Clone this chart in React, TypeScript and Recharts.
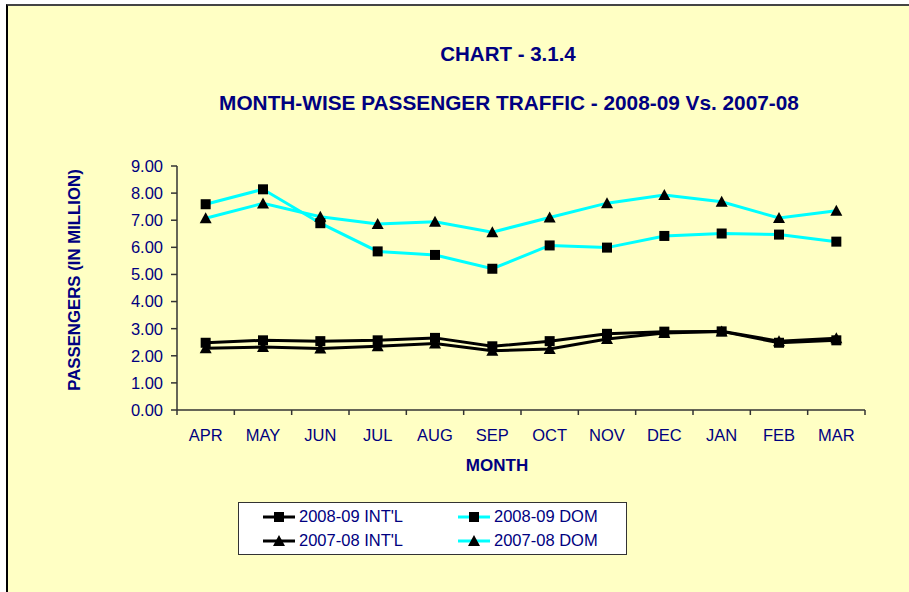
import { LineChart, Line, XAxis, YAxis } from 'recharts';

const months = ['APR', 'MAY', 'JUN', 'JUL', 'AUG', 'SEP', 'OCT', 'NOV', 'DEC', 'JAN', 'FEB', 'MAR'];

const intl0809 = [2.48, 2.57, 2.54, 2.57, 2.66, 2.35, 2.54, 2.81, 2.89, 2.90, 2.48, 2.57];
const dom0809 = [7.59, 8.14, 6.89, 5.85, 5.72, 5.21, 6.07, 5.99, 6.42, 6.51, 6.47, 6.21];
const intl0708 = [2.28, 2.32, 2.27, 2.35, 2.45, 2.19, 2.25, 2.62, 2.84, 2.90, 2.54, 2.65];
const dom0708 = [7.07, 7.62, 7.13, 6.86, 6.94, 6.56, 7.10, 7.63, 7.93, 7.68, 7.08, 7.35];

const yTicks = [0, 1, 2, 3, 4, 5, 6, 7, 8, 9];

const NAVY = '#000080';
const CYAN = '#00FFFF';
const BG = '#FFFFC4';
const FONT = '"Liberation Sans", Arial, sans-serif';

const data = months.map((m, i) => ({
  month: m,
  intl0809: intl0809[i],
  dom0809: dom0809[i],
  intl0708: intl0708[i],
  dom0708: dom0708[i],
}));

const series = [
  { key: 'intl0809', name: "2008-09 INT'L", color: '#000000', shape: 'square' },
  { key: 'dom0809', name: '2008-09 DOM', color: CYAN, shape: 'square' },
  { key: 'intl0708', name: "2007-08 INT'L", color: '#000000', shape: 'triangle' },
  { key: 'dom0708', name: '2007-08 DOM', color: CYAN, shape: 'triangle' },
];

function Marker({ cx, cy, shape }: { cx?: number; cy?: number; shape: string }) {
  if (cx == null || cy == null) return null;
  if (shape === 'square') {
    return <rect x={cx - 5} y={cy - 5} width={10} height={10} fill="#000" />;
  }
  return <polygon points={`${cx},${cy - 6} ${cx - 6},${cy + 5} ${cx + 6},${cy + 5}`} fill="#000" />;
}

function MonthTick(props: any) {
  const { x, y, payload, index, visibleTicksCount } = props;
  const half = payload?.offset || 28.67;
  const isLast = index === (visibleTicksCount ?? months.length) - 1;
  return (
    <g>
      <line x1={x - half} y1={y - 8} x2={x - half} y2={y - 3} stroke="#333" strokeWidth={1.5} />
      {isLast && <line x1={x + half} y1={y - 8} x2={x + half} y2={y - 3} stroke="#333" strokeWidth={1.5} />}
      <text x={x} y={y + 23} textAnchor="middle" fill={NAVY} fontSize={16.5} fontFamily={FONT}>
        {payload.value}
      </text>
    </g>
  );
}

function LegendItem({ s }: { s: (typeof series)[number] }) {
  return (
    <div style={{ display: 'flex', alignItems: 'center', height: 24 }}>
      <svg width={34} height={14} style={{ marginRight: 2 }}>
        <line x1={0} y1={7} x2={32} y2={7} stroke={s.color} strokeWidth={3} />
        <Marker cx={16} cy={7} shape={s.shape} />
      </svg>
      <span style={{ color: NAVY, fontSize: 16.5, fontFamily: FONT }}>{s.name}</span>
    </div>
  );
}

function LegendBox() {
  return (
    <div
      style={{
        position: 'absolute',
        left: 238,
        top: 502,
        width: 387,
        height: 51,
        border: '1px solid #333',
        background: '#fff',
        display: 'grid',
        gridTemplateColumns: '195px 190px',
        alignContent: 'center',
      }}
    >
      {series.map((s) => (
        <div key={s.key} style={{ paddingLeft: 24 }}>
          <LegendItem s={s} />
        </div>
      ))}
    </div>
  );
}

const boldText = {
  position: 'absolute' as const,
  color: NAVY,
  fontFamily: FONT,
  fontWeight: 'bold' as const,
  whiteSpace: 'nowrap' as const,
};

export default function App() {
  return (
    <div style={{ position: 'absolute', left: 0, top: 0, width: 909, height: 592, background: '#fff', overflow: 'hidden' }}>
      <div
        style={{
          position: 'absolute',
          left: 6,
          top: 4,
          width: 920,
          height: 600,
          background: BG,
          borderTop: '2px solid #444',
          borderLeft: '2px solid #000',
        }}
      />
      <div style={{ ...boldText, left: 508, top: 54, fontSize: 20.5, transform: 'translate(-50%, -50%)' }}>
        CHART - 3.1.4
      </div>
      <div style={{ ...boldText, left: 509, top: 103, fontSize: 20.8, transform: 'translate(-50%, -50%)' }}>
        MONTH-WISE PASSENGER TRAFFIC - 2008-09 Vs. 2007-08
      </div>
      <div style={{ ...boldText, left: 75, top: 280, fontSize: 16.8, transform: 'translate(-50%, -50%) rotate(-90deg)' }}>
        PASSENGERS (IN MILLION)
      </div>
      <div style={{ ...boldText, left: 497, top: 466, fontSize: 17, transform: 'translate(-50%, -50%)' }}>
        MONTH
      </div>
      <div style={{ position: 'absolute', left: 0, top: 0 }}>
        <LineChart width={909} height={592} data={data} margin={{ top: 166, right: 44, bottom: 152, left: 0 }}>
          <XAxis
            dataKey="month"
            scale="band"
            stroke="#333"
            strokeWidth={1.5}
            tickLine={false}
            tick={<MonthTick />}
            interval={0}
            height={30}
          />
          <YAxis
            domain={[0, 9]}
            ticks={yTicks}
            interval={0}
            width={177}
            stroke="#333"
            strokeWidth={1.5}
            tickSize={6}
            tickMargin={8}
            tickFormatter={(v: number) => v.toFixed(2)}
            tick={{ fill: NAVY, fontSize: 16.5, fontFamily: FONT }}
          />
          {series.map((s) => (
            <Line
              key={s.key}
              type="linear"
              dataKey={s.key}
              name={s.name}
              stroke={s.color}
              strokeWidth={3}
              dot={(p: any) => <Marker key={`${s.key}-${p.index}`} cx={p.cx} cy={p.cy} shape={s.shape} />}
              activeDot={false}
              isAnimationActive={false}
            />
          ))}
        </LineChart>
      </div>
      <LegendBox />
    </div>
  );
}
